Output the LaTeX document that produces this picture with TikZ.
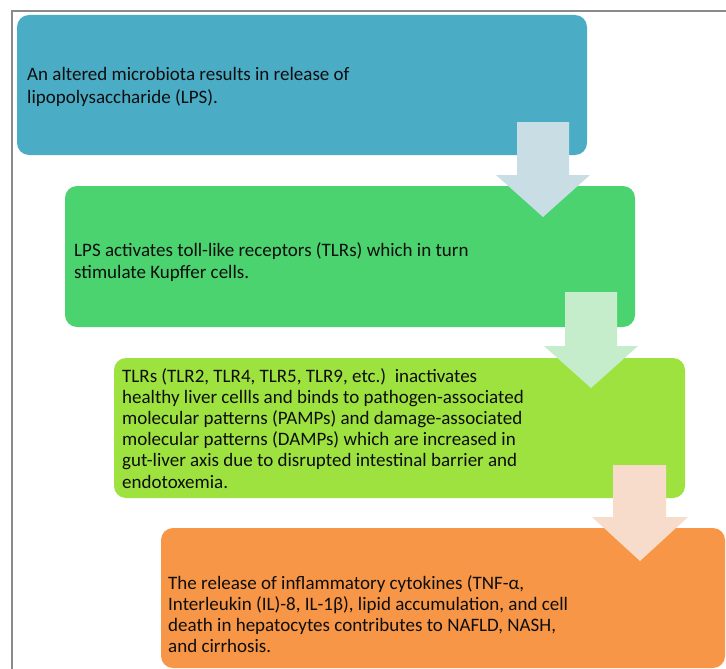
\documentclass[tikz,border=0pt]{standalone}
\usepackage{fontspec}
\setmainfont{Carlito}
\definecolor{frameC}{HTML}{8A8A8A}
\definecolor{boxA}{HTML}{4BACC6}
\definecolor{boxB}{HTML}{4AD36E}
\definecolor{boxC}{HTML}{9EE23F}
\definecolor{boxD}{HTML}{F79646}
\definecolor{arrA}{HTML}{C9DDE5}
\definecolor{arrB}{HTML}{C6EDCB}
\definecolor{arrC}{HTML}{F7DBCB}
\definecolor{txt}{HTML}{0E0E0E}
\newcommand{\lefttxt}[1]{\parbox[t]{560pt}{\raggedright #1}}
\begin{document}
\begin{tikzpicture}[x=1pt,y=-1pt,
  stepbox/.style={rounded corners=12pt},
  boxtext/.style={anchor=base west,inner sep=0pt,text=txt,
     font=\fontsize{19}{22.7}\selectfont},
  boxtextb/.style={boxtext,font=\fontsize{19}{21.2}\selectfont}]
\useasboundingbox (0,0) rectangle (726,669);
\clip (0,0) rectangle (726,669);
% outer frame
\draw[frameC,line width=2.4pt] (12,11) rectangle (760,700);
% boxes
\fill[boxA,stepbox] (17,15) rectangle (587,155);
\fill[boxB,stepbox] (65,186) rectangle (635,327);
\fill[boxC,stepbox] (114,358) rectangle (685,498);
\fill[boxD,stepbox] (161,528) rectangle (725,668);
% arrows
\fill[arrA] (517,122) -- (569,122) -- (569,175) -- (590,175) -- (543,217) -- (496,175) -- (517,175) -- cycle;
\fill[arrB] (565,292) -- (617,292) -- (617,346) -- (638,346) -- (591,388) -- (544,346) -- (565,346) -- cycle;
\fill[arrC] (613,465) -- (666,465) -- (666,517) -- (688,517) -- (640,561) -- (592,517) -- (613,517) -- cycle;
% texts
\node[boxtext] (t1) at (27,80.7) {\lefttxt{An altered microbiota results in release of\\lipopolysaccharide (LPS).}};
\node[boxtext] (t2) at (74,256) {\lefttxt{LPS activates toll-like receptors (TLRs) which in turn\\stimulate Kupffer cells.}};
\node[boxtextb] (t3) at (122,382) {\lefttxt{TLRs (TLR2, TLR4, TLR5, TLR9, etc.)\ \ inactivates\\healthy liver cellls and binds to pathogen-associated\\molecular patterns (PAMPs) and damage-associated\\molecular patterns (DAMPs) which are increased in\\gut-liver axis due to disrupted intestinal barrier and\\endotoxemia.}};
\node[boxtextb] (t4) at (168,589) {\lefttxt{The release of inflammatory cytokines (TNF-α,\\Interleukin (IL)-8, IL-1β), lipid accumulation, and cell\\death in hepatocytes contributes to NAFLD, NASH,\\and cirrhosis.}};
\end{tikzpicture}
\end{document}
